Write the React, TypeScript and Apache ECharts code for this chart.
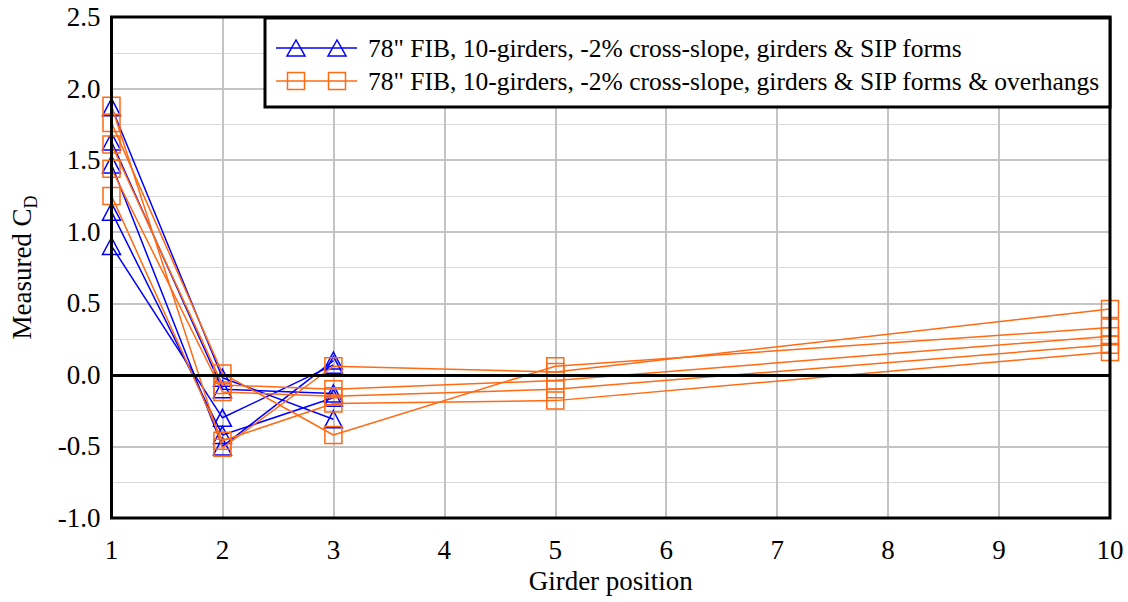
import React, { useEffect, useRef } from "react";
import * as echarts from "echarts";

const blueX = [1, 2, 3];
const orangeX = [1, 2, 3, 5, 10];

const blueSeries = [
  [1.87, -0.02, -0.31],
  [1.63, -0.1, -0.13],
  [1.47, -0.5, 0.1],
  [1.14, -0.42, -0.16],
  [0.9, -0.3, 0.07],
];

const orangeSeries = [
  [1.88, -0.51, 0.06, 0.02, 0.46],
  [1.76, 0.01, -0.42, 0.06, 0.33],
  [1.61, -0.07, -0.1, -0.04, 0.27],
  [1.44, -0.12, -0.15, -0.1, 0.21],
  [1.25, -0.46, -0.2, -0.18, 0.16],
];

const legendLabels = [
  '78" FIB, 10-girders, -2% cross-slope, girders & SIP forms',
  '78" FIB, 10-girders, -2% cross-slope, girders & SIP forms & overhangs',
];

const BLUE = "#0000ff";
const ORANGE = "#ff6a13";
const FONT = "Liberation Serif";

export default function App() {
  const ref = useRef<HTMLDivElement>(null);
  useEffect(() => {
    if (!ref.current) return;
    const chart = echarts.init(ref.current, null, { renderer: "svg" });
    const series: any[] = [];
    blueSeries.forEach((vals, i) => {
      series.push({
        type: "line",
        name: legendLabels[0],
        data: vals.map((v, j) => [blueX[j], v]),
        symbol: "triangle",
        symbolSize: [18, 17],
        lineStyle: { color: BLUE, width: 1.5 },
        itemStyle: { color: "transparent", borderColor: BLUE, borderWidth: 1.5 },
        z: 3,
        ...(i === 0
          ? {
              markLine: {
                silent: true,
                symbol: "none",
                label: { show: false },
                lineStyle: { color: "#000", width: 3, type: "solid" },
                data: [{ yAxis: 0 }],
              },
            }
          : {}),
      });
    });
    orangeSeries.forEach((vals) => {
      series.push({
        type: "line",
        name: legendLabels[1],
        data: vals.map((v, j) => [orangeX[j], v]),
        symbol: "rect",
        symbolSize: [17, 17],
        lineStyle: { color: ORANGE, width: 1.5 },
        itemStyle: { color: "transparent", borderColor: ORANGE, borderWidth: 1.5 },
        z: 4,
      });
    });

    const Z = 100;
    const tri = (cx: number, cy: number) => ({
      type: "polygon",
      z: Z + 2,
      shape: { points: [[cx, cy - 8], [cx - 9, cy + 8], [cx + 9, cy + 8]] },
      style: { fill: "none", stroke: BLUE, lineWidth: 1.5 },
    });
    const sq = (cx: number, cy: number) => ({
      type: "rect",
      z: Z + 2,
      shape: { x: cx - 8.5, y: cy - 8.5, width: 17, height: 17 },
      style: { fill: "none", stroke: ORANGE, lineWidth: 1.5 },
    });

    chart.setOption({
      animation: false,
      backgroundColor: "#fff",
      textStyle: { fontFamily: FONT },
      grid: {
        left: 108,
        right: 18,
        top: 17,
        bottom: 84,
        show: true,
        borderColor: "#000",
        borderWidth: 3,
        backgroundColor: "transparent",
        z: 5,
      },
      xAxis: {
        type: "value",
        min: 1,
        max: 10,
        interval: 1,
        axisLine: { show: false },
        axisTick: { show: false },
        axisLabel: { color: "#000", fontFamily: FONT, fontSize: 27, margin: 18 },
        splitLine: { show: true, lineStyle: { color: "#c4c4c4", width: 2 } },
        name: "Girder position",
        nameLocation: "middle",
        nameGap: 48,
        nameTextStyle: { color: "#000", fontFamily: FONT, fontSize: 27 },
      },
      yAxis: {
        type: "value",
        min: -1,
        max: 2.5,
        interval: 0.5,
        axisLine: { show: false },
        axisTick: { show: false },
        axisLabel: {
          color: "#000",
          fontFamily: FONT,
          fontSize: 27,
          margin: 11,
          formatter: (v: number) => v.toFixed(1),
        },
        splitLine: { show: true, lineStyle: { color: "#c4c4c4", width: 2 } },
        minorTick: { show: false, splitNumber: 2 },
        minorSplitLine: { show: true, lineStyle: { color: "#dadada", width: 1 } },
        name: "{a|Measured C}{b|D}",
        nameLocation: "middle",
        nameRotate: 90,
        nameGap: 72,
        nameTextStyle: {
          color: "#000",
          fontFamily: FONT,
          fontSize: 27,
          rich: {
            a: { fontFamily: FONT, fontSize: 27, color: "#000", lineHeight: 36, verticalAlign: "middle" },
            b: { fontFamily: FONT, fontSize: 18, color: "#000", lineHeight: 36, verticalAlign: "bottom" },
          },
        },
      },
      graphic: [
        {
          type: "rect",
          z: Z,
          shape: { x: 265, y: 18, width: 845, height: 89 },
          style: { fill: "#fff", stroke: "#000", lineWidth: 3 },
        },
        {
          type: "line",
          z: Z + 1,
          shape: { x1: 276, y1: 48, x2: 357, y2: 48 },
          style: { stroke: BLUE, lineWidth: 1.5 },
        },
        tri(296, 48),
        tri(337, 48),
        {
          type: "line",
          z: Z + 1,
          shape: { x1: 276, y1: 81, x2: 357, y2: 81 },
          style: { stroke: ORANGE, lineWidth: 1.5 },
        },
        sq(296, 81),
        sq(337, 81),
        {
          type: "text",
          z: Z + 1,
          x: 368,
          y: 48,
          style: {
            text: legendLabels[0],
            fontFamily: FONT,
            fontSize: 25.5,
            fill: "#000",
            verticalAlign: "middle",
            align: "left",
          },
        },
        {
          type: "text",
          z: Z + 1,
          x: 368,
          y: 81,
          style: {
            text: legendLabels[1],
            fontFamily: FONT,
            fontSize: 25.5,
            fill: "#000",
            verticalAlign: "middle",
            align: "left",
          },
        },
      ],
      series,
    });
    return () => chart.dispose();
  }, []);
  return (
    <div
      ref={ref}
      style={{ position: "fixed", left: 0, top: 0, width: 1128, height: 602, background: "#fff" }}
    />
  );
}
